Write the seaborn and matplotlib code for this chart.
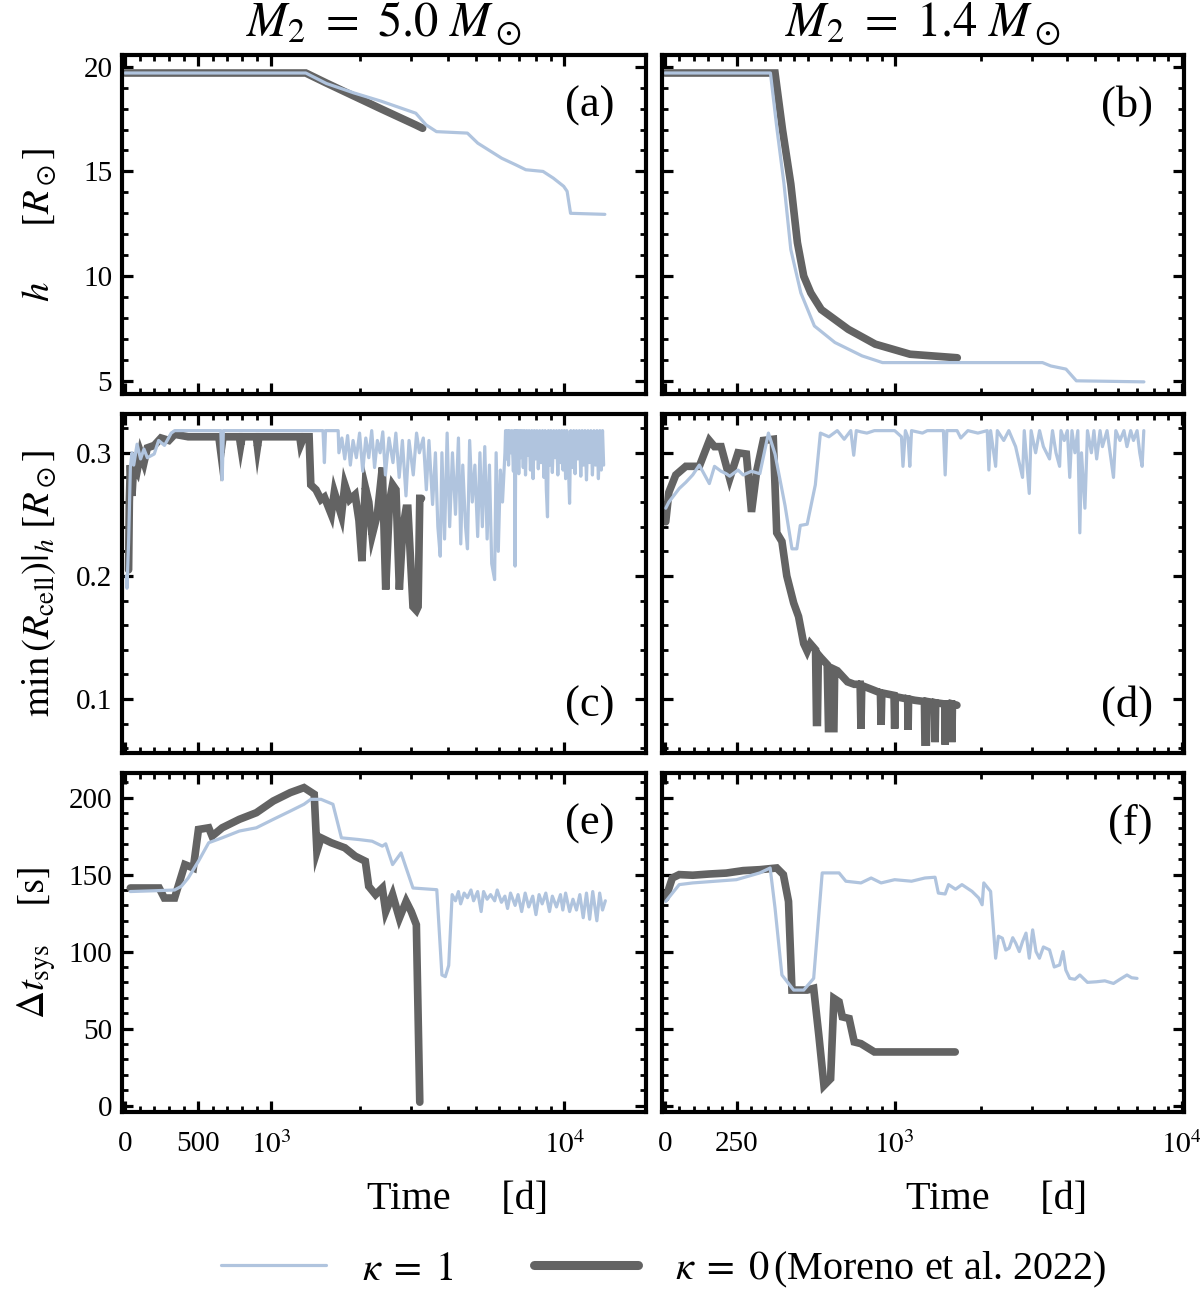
import matplotlib
matplotlib.use("Agg")
import matplotlib.pyplot as plt
import matplotlib.ticker as mticker
from matplotlib.lines import Line2D
import seaborn as sns

# ---- data ----
# panel (a): h, M2 = 5.0
a_t_k1 = [0, 1310, 1541, 1912, 2374, 3111, 3375, 3660, 4667, 5064, 6112, 6814,
          7387, 8457, 9169, 9947, 10220, 10500, 13750]
a_h_k1 = [19.7, 19.7, 19.2, 18.75, 18.35, 17.78, 17.22, 16.9, 16.83, 16.35, 15.63,
          15.32, 15.08, 15.0, 14.68, 14.29, 14.05, 13.0, 12.95]
a_t_k0 = [0, 1310, 1541, 1912, 2374, 3111, 3283]
a_h_k0 = [19.7, 19.7, 19.22, 18.6, 17.98, 17.22, 17.06]

# panel (b): h, M2 = 1.4
b_t_k1 = [0, 368, 391, 415, 439, 474, 525, 619, 770, 907, 3275, 3500, 3955, 4299, 7393]
b_h_k1 = [19.7, 19.7, 17.0, 14.44, 11.27, 9.2, 7.62, 6.83, 6.19, 5.87, 5.87, 5.71,
          5.56, 5.0, 4.95]
b_t_k0 = [0, 384, 410, 439, 462, 484, 510, 555, 689, 856, 1131, 1653]
b_h_k0 = [19.7, 19.7, 17.0, 14.4, 11.6, 10.0, 9.2, 8.4, 7.46, 6.75, 6.27, 6.1]

# panel (c): min(R_cell), M2 = 5.0
c_t_k1 = [10, 14, 25, 37, 48, 60, 83, 107, 130, 153,
          200, 230, 270, 316, 340, 430, 600, 655, 664, 672,
          900, 1500, 1517, 1530, 1690, 1700, 1740, 1780, 1820, 1860,
          1900, 1950, 2000, 2050, 2100, 2150, 2200, 2250, 2300, 2350,
          2400, 2450, 2520, 2600, 2660, 2730, 2800, 2880, 2950, 3050,
          3130, 3200, 3300, 3380, 3450, 3550, 3630, 3700, 3770, 3820,
          3900, 3980, 4060, 4150, 4250, 4350, 4430, 4500, 4600, 4670,
          4750, 4850, 4950, 5060, 5150, 5250, 5350, 5450, 5550, 5650,
          5780, 5850, 5950, 6050, 6150, 6270,
          6300, 6350, 6400, 6450, 6500, 6560, 6620, 6700, 6750, 6790,
          6830, 6880, 6930, 6990, 7050, 7110, 7170, 7240, 7300, 7370,
          7440, 7510, 7580, 7660, 7740, 7820, 7900, 7980, 8060, 8150,
          8240, 8330, 8420, 8520, 8600, 8680, 8760, 8820, 8910, 9000,
          9100, 9200, 9300, 9400, 9500, 9600, 9700, 9800, 9900, 10000,
          10100, 10200, 10320, 10420, 10520, 10640, 10760, 10880, 11000, 11120,
          11250, 11380, 11500, 11630, 11760, 11900, 12040, 12180, 12320, 12470,
          12620, 12770, 12920, 13070, 13220, 13370, 13500, 13620]
c_r_k1 = [0.200, 0.190, 0.227, 0.288, 0.300, 0.290, 0.307, 0.295, 0.303, 0.296,
          0.299, 0.310, 0.306, 0.316, 0.318, 0.318, 0.318, 0.318, 0.278, 0.318,
          0.318, 0.318, 0.292, 0.318, 0.318, 0.300, 0.312, 0.295, 0.314, 0.290,
          0.310, 0.296, 0.316, 0.285, 0.312, 0.296, 0.318, 0.288, 0.310, 0.300,
          0.317, 0.282, 0.312, 0.292, 0.316, 0.280, 0.310, 0.265, 0.310, 0.282,
          0.316, 0.300, 0.312, 0.270, 0.310, 0.258, 0.300, 0.240, 0.216, 0.300,
          0.230, 0.316, 0.240, 0.300, 0.250, 0.312, 0.226, 0.290, 0.240, 0.222,
          0.310, 0.260, 0.290, 0.232, 0.300, 0.240, 0.305, 0.230, 0.290, 0.210,
          0.197, 0.300, 0.220, 0.286, 0.260, 0.300,
          0.318, 0.295, 0.318, 0.290, 0.318, 0.300, 0.318, 0.285, 0.318, 0.208,
          0.318, 0.292, 0.318, 0.283, 0.318, 0.296, 0.318, 0.288, 0.318, 0.282,
          0.318, 0.298, 0.318, 0.286, 0.318, 0.279, 0.318, 0.295, 0.318, 0.287,
          0.318, 0.292, 0.318, 0.280, 0.318, 0.270, 0.248, 0.318, 0.290, 0.318,
          0.284, 0.318, 0.296, 0.318, 0.282, 0.318, 0.292, 0.318, 0.286, 0.318,
          0.279, 0.318, 0.290, 0.259, 0.318, 0.288, 0.318, 0.283, 0.318, 0.295,
          0.318, 0.281, 0.318, 0.290, 0.318, 0.278, 0.318, 0.292, 0.318, 0.282,
          0.318, 0.290, 0.318, 0.279, 0.318, 0.286, 0.318, 0.290]
c_t_k0 = [25, 30, 37, 48, 60, 83, 107, 130, 153, 200,
          246, 300, 340, 432, 641, 655, 670, 781, 790, 800,
          897, 905, 915, 1250, 1260, 1290, 1345, 1363, 1420, 1477,
          1517, 1601, 1640, 1734, 1781, 1850, 1931, 1990, 2037, 2092,
          2150, 2207, 2300, 2391, 2456, 2530, 2592, 2662, 2734, 2808,
          2884, 2923, 3043, 3125, 3168, 3210, 3253]
c_r_k0 = [0.205, 0.26, 0.29, 0.265, 0.29, 0.285, 0.30, 0.292, 0.304, 0.306,
          0.312, 0.31, 0.315, 0.313, 0.313, 0.30, 0.313, 0.313, 0.306, 0.313,
          0.313, 0.305, 0.313, 0.313, 0.307, 0.313, 0.313, 0.274, 0.27, 0.262,
          0.264, 0.25, 0.268, 0.249, 0.274, 0.262, 0.266, 0.245, 0.212, 0.272,
          0.26, 0.233, 0.25, 0.288, 0.189, 0.26, 0.274, 0.27, 0.189, 0.238,
          0.255, 0.255, 0.175, 0.172, 0.175, 0.263, 0.263]

# panel (d): min(R_cell), M2 = 1.4
d_t_k1 = [3, 14, 50, 73, 97, 120, 155, 173, 196, 214,
          226, 255, 273, 302, 331, 361, 384, 419, 443, 460,
          472, 496, 529, 551, 590, 631, 667, 703, 720, 735,
          763, 800, 850, 900, 1000, 1056, 1069, 1090, 1114, 1129,
          1145, 1250, 1300, 1479, 1500, 1520, 1650, 1700, 1800, 1950,
          2102, 2130, 2160, 2249, 2280, 2400, 2500, 2640, 2791, 2830,
          2946, 2990, 3100, 3200, 3300, 3466, 3550, 3650, 3758, 3800,
          3900, 4000, 4077, 4150, 4250, 4350, 4420, 4480, 4605, 4700,
          4850, 4950, 5060, 5200, 5300, 5500, 5792, 5900, 6100, 6300,
          6453, 6650, 6800, 7000, 7150, 7288, 7387]
d_r_k1 = [0.255, 0.26, 0.271, 0.276, 0.282, 0.29, 0.275, 0.289, 0.285, 0.283,
          0.281, 0.286, 0.282, 0.285, 0.283, 0.316, 0.299, 0.257, 0.222, 0.222,
          0.241, 0.242, 0.274, 0.316, 0.313, 0.318, 0.311, 0.318, 0.298, 0.318,
          0.317, 0.316, 0.318, 0.318, 0.318, 0.313, 0.289, 0.318, 0.312, 0.289,
          0.318, 0.316, 0.318, 0.318, 0.282, 0.318, 0.318, 0.312, 0.318, 0.316,
          0.318, 0.286, 0.318, 0.289, 0.318, 0.31, 0.318, 0.305, 0.28, 0.318,
          0.267, 0.318, 0.30, 0.318, 0.305, 0.295, 0.318, 0.30, 0.289, 0.318,
          0.31, 0.318, 0.28, 0.318, 0.30, 0.318, 0.235, 0.30, 0.255, 0.318,
          0.30, 0.318, 0.295, 0.318, 0.305, 0.318, 0.28, 0.318, 0.31, 0.318,
          0.305, 0.318, 0.31, 0.318, 0.30, 0.289, 0.318]
d_t_k0 = [3, 14, 38, 73, 120, 155, 173, 196, 226, 255,
          284, 302, 320, 343, 378, 390, 408, 425, 449, 466,
          484, 496, 508, 530, 534, 538, 542, 551, 582, 588,
          614, 618, 631, 685, 723, 758, 763, 768, 850, 892,
          897, 902, 995, 1000, 1005, 1110, 1114, 1118, 1176, 1270,
          1275, 1290, 1300, 1378, 1383, 1390, 1495, 1500, 1508, 1578,
          1583, 1590, 1648]
d_r_k0 = [0.244, 0.268, 0.282, 0.289, 0.289, 0.31, 0.305, 0.305, 0.279, 0.30,
          0.299, 0.252, 0.285, 0.31, 0.311, 0.235, 0.228, 0.20, 0.178, 0.167,
          0.145, 0.139, 0.145, 0.140, 0.081, 0.081, 0.136, 0.134, 0.128, 0.076,
          0.076, 0.124, 0.123, 0.114, 0.112, 0.112, 0.076, 0.111, 0.107, 0.105,
          0.079, 0.105, 0.103, 0.076, 0.102, 0.100, 0.075, 0.100, 0.099, 0.098,
          0.065, 0.065, 0.098, 0.097, 0.065, 0.097, 0.096, 0.063, 0.096, 0.096,
          0.065, 0.096, 0.095]

# panel (e): dt_sys, M2 = 5.0
e_t_k1 = [37, 200, 339, 385, 432, 502, 572, 664, 781, 897,
          1015, 1161, 1292, 1363, 1477, 1622, 1734, 1983, 2207, 2391,
          2456, 2592, 2771, 2884, 3043, 3669, 3820, 3924, 4030, 4140,
          4250, 4350, 4426, 4550, 4669, 4800, 4900, 5059, 5200, 5300,
          5450, 5600, 5783, 5900, 6100, 6268, 6400, 6550, 6792, 6950,
          7150, 7350, 7558, 7800, 8000, 8200, 8400, 8644, 8900, 9100,
          9400, 9700, 9881, 10100, 10423, 10700, 11000, 11296, 11600, 11900,
          12200, 12500, 12912, 13200, 13500, 13803]
e_s_k1 = [139, 139.5, 140, 142.4, 147.8, 158.7, 170.7, 173.9, 178.3, 180.4,
          185.9, 191.3, 195.7, 198.9, 198.9, 195.7, 173.9, 172.8, 171.7, 168.5,
          170, 156.5, 164.1, 154.3, 141.3, 140.2, 84.8, 83.7, 91, 137,
          133, 139, 131, 138, 135, 140, 133, 139, 126, 139,
          134, 137, 133, 140, 132, 136, 128, 138, 130, 137,
          126, 138, 129, 136, 124, 137, 131, 138, 126, 136,
          129, 137, 127, 138, 126, 134, 127, 137, 122, 138,
          121, 139, 120, 138, 127, 133]
e_t_k0 = [37, 234, 269, 339, 409, 467, 502, 572, 595, 664,
          781, 897, 1015, 1161, 1292, 1400, 1430, 1477, 1601, 1781,
          1931, 2092, 2149, 2267, 2391, 2456, 2592, 2734, 2884, 3002,
          3125, 3210]
e_s_k0 = [141.3, 141.3, 134.8, 134.8, 156.5, 154.3, 179.3, 180.4, 175, 180.4,
          185.9, 190.2, 197.8, 203.3, 206.5, 202.2, 165.2, 173.9, 170.7, 167.4,
          162, 158.7, 142.4, 137, 141.3, 126, 137, 121.7, 132.6, 126,
          117.4, 2.2]

# panel (f): dt_sys, M2 = 1.4
f_t_k1 = [3, 50, 97, 249, 331, 367, 384, 408, 449, 484,
          522, 559, 640, 676, 763, 828, 897, 1000, 1145, 1275,
          1383, 1420, 1500, 1541, 1630, 1716, 1861, 1964, 2018, 2045,
          2160, 2249, 2300, 2374, 2440, 2506, 2580, 2644, 2720, 2791,
          2870, 2946, 3027, 3110, 3196, 3300, 3466, 3600, 3758, 3862,
          3950, 4077, 4250, 4420, 4700, 5060, 5400, 5792, 6100, 6453,
          6700, 6997]
f_s_k1 = [132.6, 143.5, 144.6, 146.7, 151.1, 154.3, 128.3, 84.8, 75, 75,
          82.6, 151.1, 151.1, 145.7, 144.6, 147.8, 144.6, 146.7, 145.7, 147.8,
          148.3, 138, 137.4, 143.5, 140.5, 143.5, 139.1, 134.8, 130.4, 144.6,
          139.1, 95.7, 110, 108.7, 101, 102.2, 109, 105.4, 100, 106.5,
          112, 95.7, 114.1, 100, 95.7, 103, 101.1, 90, 91.3, 100,
          88, 82.6, 82, 84.8, 80, 80.4, 81, 79.3, 82, 84.8,
          83, 82.6]
f_t_k0 = [3, 26, 50, 97, 155, 214, 273, 331, 390, 413,
          431, 443, 496, 522, 544, 567, 598, 614, 640, 657,
          694, 723, 763, 850, 1626]
f_s_k0 = [134.8, 147.8, 150, 149.6, 150.4, 151, 152.6, 153.2, 154.3, 150,
          132.6, 75, 75, 76.1, 45.7, 13, 17.4, 69.6, 67.4, 57.6,
          56.5, 41.3, 40.2, 34.8, 34.8]

col_titles = [r"$M_2\ =\ 5.0\ M_\odot$", r"$M_2\ =\ 1.4\ M_\odot$"]
row_labels = [r"$h\qquad [R_\odot]$",
              r"$\min\,(R_{\rm cell})|_h\ [R_\odot]$",
              r"$\Delta t_{\rm sys}\quad\ [\mathrm{s}]$"]
panel_tags = ["(a)", "(b)", "(c)", "(d)", "(e)", "(f)"]

C_K1 = "#b0c4de"
C_K0 = "#636363"
LW_K1 = 2.3
LW_K0 = 5.5

sns.set_style("ticks")
plt.rcParams["font.family"] = ["Liberation Serif", "DejaVu Serif"]
plt.rcParams["mathtext.fontset"] = "stix"
plt.rcParams.update({
    "axes.edgecolor": "black", "xtick.color": "black", "ytick.color": "black",
    "axes.labelcolor": "black", "text.color": "black",
    "xtick.direction": "in", "ytick.direction": "in",
    "xtick.top": True, "ytick.right": True,
    "xtick.major.size": 8, "ytick.major.size": 8,
    "xtick.minor.size": 4.5, "ytick.minor.size": 4.5,
    "xtick.major.width": 2.3, "ytick.major.width": 2.3,
    "xtick.minor.width": 2.0, "ytick.minor.width": 2.0,
    "axes.linewidth": 3.0,
    "xtick.labelsize": 21, "ytick.labelsize": 21,
    "ytick.major.pad": 7,
})

fig = plt.figure(figsize=(12, 12.92), dpi=100)
W, H = 1200.0, 1292.0
col_x = [122, 662]
col_w = [524, 522]
row_top = [55, 414, 773]
row_h = 339

series = [
    [(a_t_k1, a_h_k1, a_t_k0, a_h_k0), (b_t_k1, b_h_k1, b_t_k0, b_h_k0)],
    [(c_t_k1, c_r_k1, c_t_k0, c_r_k0), (d_t_k1, d_r_k1, d_t_k0, d_r_k0)],
    [(e_t_k1, e_s_k1, e_t_k0, e_s_k0), (f_t_k1, f_s_k1, f_t_k0, f_s_k0)],
]
ylims = [(4.37, 20.56), (0.0562, 0.3315), (-4.2, 216)]
ymajor = [[5, 10, 15, 20], [0.1, 0.2, 0.3], [0, 50, 100, 150, 200]]
yminor = [1, 0.02, 10]

for r in range(3):
    for c in range(2):
        ax = fig.add_axes([col_x[c] / W, 1 - (row_top[r] + row_h) / H,
                           col_w[c] / W, row_h / H])
        t1, v1, t0, v0 = series[r][c]
        sns.lineplot(x=t0, y=v0, ax=ax, color=C_K0, lw=LW_K0, estimator=None,
                     sort=False, solid_joinstyle="miter")
        sns.lineplot(x=t1, y=v1, ax=ax, color=C_K1, lw=LW_K1, estimator=None,
                     sort=False)

        if c == 0:
            ax.set_xscale("symlog", linthresh=1000, linscale=0.45)
            ax.set_xlim(-20, 19000)
            ax.set_xticks([0, 500, 1000, 10000])
            ax.set_xticklabels(["0", "500", r"$10^3$", r"$10^4$"])
            minors = [100, 200, 300, 400, 600, 700, 800, 900] + \
                     [k * 1000 for k in range(2, 10)]
        else:
            ax.set_xscale("symlog", linthresh=500, linscale=0.45)
            ax.set_xlim(-10, 10200)
            ax.set_xticks([0, 250, 1000, 10000])
            ax.set_xticklabels(["0", "250", r"$10^3$", r"$10^4$"])
            minors = [50, 100, 150, 200, 300, 350, 400, 450, 500, 600, 700, 800, 900] + \
                     [k * 1000 for k in range(2, 10)]
        ax.xaxis.set_minor_locator(mticker.FixedLocator(minors))

        ax.set_ylim(*ylims[r])
        ax.yaxis.set_major_locator(mticker.FixedLocator(ymajor[r]))
        ax.yaxis.set_minor_locator(mticker.MultipleLocator(yminor[r]))
        ax.tick_params(which="both", top=True, right=True)
        if r == 1:
            ax.yaxis.set_major_formatter(mticker.FormatStrFormatter("%.1f"))

        if c == 1:
            ax.tick_params(labelleft=False)
            ax.set_ylabel("")
        else:
            ax.set_ylabel(row_labels[r], fontsize=28)
            ax.yaxis.set_label_coords(-0.122, 0.5)
        if r < 2:
            ax.tick_params(labelbottom=False)
            ax.set_xlabel("")
        else:
            ax.set_xlabel("Time     [d]", fontsize=29)
            ax.xaxis.set_label_coords(0.64, -0.205)
            ax.tick_params(axis="x", pad=14)

        ty = 0.14 if r == 1 else 0.85
        ax.text(0.94, ty, panel_tags[2 * r + c], transform=ax.transAxes,
                ha="right", va="center", fontsize=32)

for c in range(2):
    fig.text((col_x[c] + col_w[c] / 2) / W, 1 - 24 / H, col_titles[c],
             ha="center", va="center", fontsize=35)

handles = [Line2D([], [], color=C_K1, lw=LW_K1), Line2D([], [], color=C_K0, lw=LW_K0 + 1)]
fig.legend(handles, [r"$\kappa\;=\;1$", r"$\kappa\;=\;0\,$(Moreno et al. 2022)"],
           loc="center", bbox_to_anchor=(0.553, 1 - 1270 / H), ncol=2,
           frameon=False, fontsize=29, handlelength=2.6, columnspacing=2.0,
           handletextpad=0.9)

fig.savefig("out.png", dpi=100)
